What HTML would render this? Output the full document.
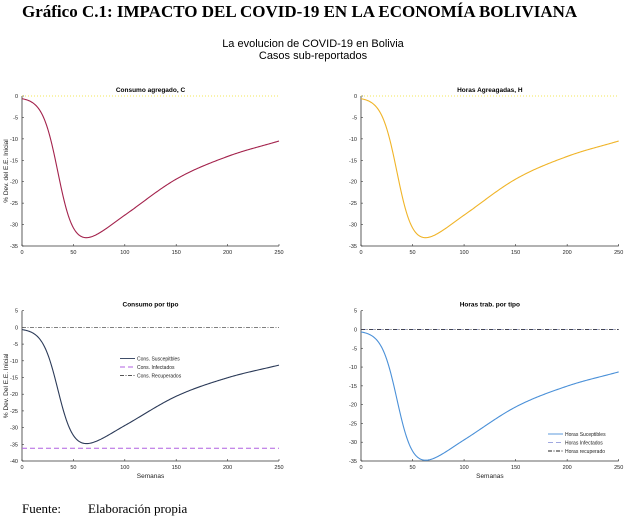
<!DOCTYPE html>
<html><head><meta charset="utf-8"><style>
body{margin:0;background:#fff;width:627px;height:518px;overflow:hidden}
svg text{font-family:"Liberation Sans",sans-serif}
</style></head><body>
<svg id="s" width="627" height="518" xmlns="http://www.w3.org/2000/svg">
<text x="22" y="17" style="font-family:'Liberation Serif',serif;font-weight:bold;font-size:17px">Gráfico C.1: IMPACTO DEL COVID-19 EN LA ECONOMÍA BOLIVIANA</text>
<text x="313" y="47" text-anchor="middle" font-size="11">La evolucion de COVID-19 en Bolivia</text>
<text x="313" y="59" text-anchor="middle" font-size="11">Casos sub-reportados</text>
<text x="22" y="513" style="font-family:'Liberation Serif',serif;font-size:13px">Fuente:</text>
<text x="88" y="513" style="font-family:'Liberation Serif',serif;font-size:13px">Elaboración propia</text>
</svg>
<script>
const s=document.getElementById('s');
function add(tag,attrs,txt){const e=document.createElementNS('http://www.w3.org/2000/svg',tag);for(const k in attrs)e.setAttribute(k,attrs[k]);if(txt!==undefined)e.textContent=txt;s.appendChild(e);return e;}
const P=[[0,35.5],[40,35.3],[65,33.6],[100,27.8],[150,19.4],[200,14.1],[250,10.5]];
function env(t){for(let i=0;i<P.length-1;i++){if(t<=P[i+1][0]){const p0=P[Math.max(i-1,0)],p1=P[i],p2=P[i+1],p3=P[Math.min(i+2,P.length-1)];const u=(t-p1[0])/(p2[0]-p1[0]);const h=p2[0]-p1[0];const m1=(p2[1]-p0[1])/(p2[0]-p0[0])*h,m2=(p3[1]-p1[1])/(p3[0]-p1[0])*h;const u2=u*u,u3=u2*u;return (2*u3-3*u2+1)*p1[1]+(u3-2*u2+u)*m1+(-2*u3+3*u2)*p2[1]+(u3-u2)*m2;}}return P[P.length-1][1];}
function val(t){const L=1/(1+Math.exp(-(t-35)/7.5));return -(L*env(t)+0.3*(1-L));}
function panel(o){
 const X=t=>o.x0+(o.x1-o.x0)*t/250, Y=v=>o.y0+(o.y1-o.y0)*(o.ymax-v)/(o.ymax-o.ymin);
 add('line',{x1:o.x0,y1:o.y0,x2:o.x0,y2:o.y1,stroke:'#333','stroke-width':0.8});
 add('line',{x1:o.x0,y1:o.y1,x2:o.x1,y2:o.y1,stroke:'#333','stroke-width':0.8});
 for(let v=o.ymax;v>=o.ymin;v-=5){add('line',{x1:o.x0,y1:Y(v),x2:o.x0+2,y2:Y(v),stroke:'#333','stroke-width':0.6});add('text',{x:o.x0-4,y:Y(v)+2,'text-anchor':'end','font-size':5.5,fill:'#222'},String(v));}
 for(let t=0;t<=250;t+=50){add('line',{x1:X(t),y1:o.y1,x2:X(t),y2:o.y1-2,stroke:'#333','stroke-width':0.6});add('text',{x:X(t),y:o.y1+8,'text-anchor':'middle','font-size':5.5,fill:'#222'},String(t));}
 add('text',{x:(o.x0+o.x1)/2,y:o.y0-4,'text-anchor':'middle','font-size':6.5,'font-weight':'bold'},o.title);
 if(o.ylab)add('text',{x:0,y:0,'text-anchor':'middle','font-size':6.5,fill:'#222',transform:`translate(${o.x0-14},${(o.y0+o.y1)/2}) rotate(-90)`},o.ylab);
 if(o.xlab)add('text',{x:(o.x0+o.x1)/2,y:o.y1+17,'text-anchor':'middle','font-size':6.5,fill:'#222'},o.xlab);
 (o.h||[]).forEach(h=>add('line',{x1:o.x0,y1:Y(h.v),x2:o.x1,y2:Y(h.v),stroke:h.c,'stroke-width':h.w||0.8,'stroke-dasharray':h.d}));
 let d='';for(let t=0;t<=250;t+=1){const k=o.k?o.k(t):1;d+=(t?'L':'M')+X(t).toFixed(2)+' '+Y(val(t)*k).toFixed(2);}
 add('path',{d:d,fill:'none',stroke:o.c,'stroke-width':1.1});
 (o.leg||[]).forEach((l,i)=>{const y=o.ly+i*8.5;add('line',{x1:o.lx,y1:y,x2:o.lx+15,y2:y,stroke:l.c,'stroke-width':l.w||0.9,'stroke-dasharray':l.d});add('text',{x:o.lx+17,y:y+2,'font-size':5,fill:'#222'},l.t);});
}
const k2=t=>1.045+0.03*t/250;
panel({x0:22,x1:279,y0:96,y1:246,ymax:0,ymin:-35,title:'Consumo agregado, C',ylab:'% Dev. del E.E. Inicial',c:'#a3224c',h:[{v:0,c:'#f0e020',d:'1,2'}]});
panel({x0:361,x1:618.7,y0:96,y1:246,ymax:0,ymin:-35,title:'Horas Agreagadas, H',c:'#f0b428',h:[{v:0,c:'#f0e020',d:'1,2'}]});
panel({x0:22,x1:279,y0:310.7,y1:461,ymax:5,ymin:-40,title:'Consumo por tipo',ylab:'% Dev. Del E.E. Inicial',xlab:'Semanas',c:'#2b3a58',k:k2,
 h:[{v:0,c:'#555',d:'4,1.5,1,1.5'},{v:-36.2,c:'#b060e0',d:'5,3',w:1}],
 lx:120,ly:358.5,leg:[{c:'#2b3a58',t:'Cons. Suscepitbles'},{c:'#b060e0',d:'5,3',t:'Cons. Infectados'},{c:'#555',d:'4,1.5,1,1.5',t:'Cons. Recuperados'}]});
panel({x0:361,x1:618.7,y0:310.7,y1:461,ymax:5,ymin:-35,title:'Horas trab. por tipo',xlab:'Semanas',c:'#4a90d8',k:k2,
 h:[{v:0,c:'#a0a8e0',d:'5,3',w:1},{v:0,c:'#222',d:'4,1.5,1,1.5'}],
 lx:548,ly:434,leg:[{c:'#4a90d8',t:'Horas Suceptibles'},{c:'#a0a8e0',d:'5,3',t:'Horas Infectados'},{c:'#222',d:'4,1.5,1,1.5',t:'Horas recuperado'}]});
</script>
</body></html>
